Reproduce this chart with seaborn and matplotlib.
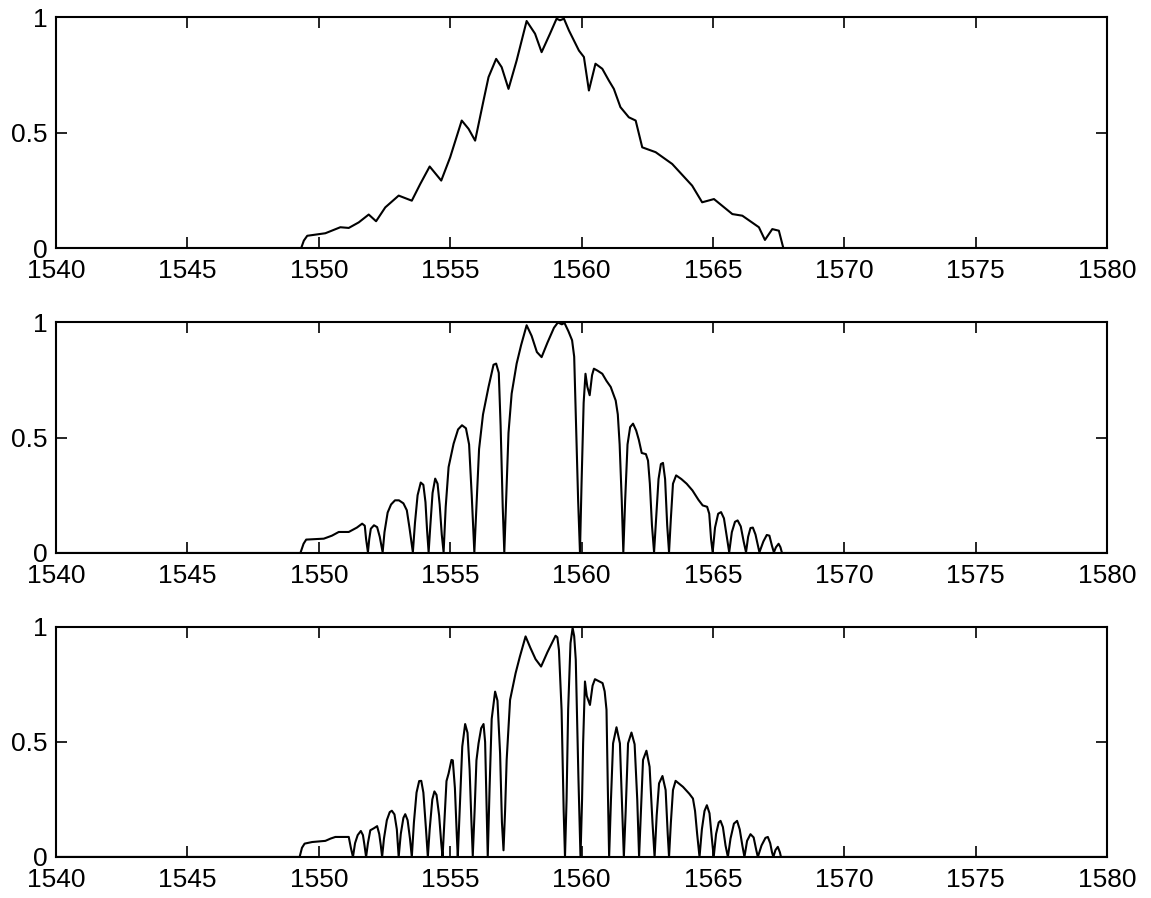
import matplotlib
matplotlib.use("Agg")
import matplotlib.pyplot as plt
import numpy as np
import pandas as pd
import seaborn as sns

# Wavelength axis ticks and limits
x_ticks = [1540, 1545, 1550, 1555, 1560, 1565, 1570, 1575, 1580]
y_ticks = [0, 0.5, 1]
y_tick_labels = ["0", "0.5", "1"]

# Spectrum without filtering
top_nm = [1540.0, 1549.33, 1549.43, 1549.56, 1550.25, 1550.82, 1551.14, 1551.52, 1551.90,
          1552.18, 1552.53, 1553.04, 1553.54, 1553.86, 1554.22, 1554.66, 1555.00, 1555.44,
          1555.70, 1555.95, 1556.27, 1556.46, 1556.75, 1556.96, 1557.22, 1557.53, 1557.91,
          1558.23, 1558.48, 1558.80, 1559.05, 1559.18, 1559.33, 1559.52, 1559.90, 1560.09,
          1560.28, 1560.53, 1560.79, 1561.04, 1561.23, 1561.48, 1561.80, 1562.06, 1562.31,
          1562.82, 1563.45, 1564.21, 1564.59, 1565.04, 1565.74, 1566.12, 1566.75, 1566.98,
          1567.26, 1567.51, 1567.68, 1580.0]
top_val = [0.0, 0.0, 0.032, 0.053, 0.064, 0.090, 0.087, 0.111, 0.145,
           0.116, 0.176, 0.227, 0.205, 0.277, 0.353, 0.292, 0.393, 0.552,
           0.516, 0.465, 0.639, 0.740, 0.819, 0.783, 0.689, 0.812, 0.983,
           0.928, 0.848, 0.928, 0.993, 0.986, 0.993, 0.942, 0.855, 0.827,
           0.682, 0.798, 0.776, 0.725, 0.689, 0.610, 0.566, 0.552, 0.436,
           0.415, 0.364, 0.270, 0.198, 0.212, 0.147, 0.140, 0.090, 0.035,
           0.082, 0.075, 0.0, 0.0]

# Spectrum after the first filter stage
mid_nm = [1540.0, 1549.30, 1549.42, 1549.52, 1550.19, 1550.50, 1550.76, 1551.14, 1551.45,
          1551.65, 1551.75, 1551.80, 1551.87, 1551.92, 1551.98, 1552.10, 1552.22, 1552.32,
          1552.43, 1552.50, 1552.62, 1552.75, 1552.90, 1553.05, 1553.22, 1553.35, 1553.45,
          1553.58, 1553.66, 1553.76, 1553.88, 1553.98, 1554.06, 1554.12, 1554.18, 1554.24,
          1554.33, 1554.43, 1554.52, 1554.60, 1554.68, 1554.75, 1554.83, 1554.94, 1555.13,
          1555.30, 1555.45, 1555.60, 1555.72, 1555.82, 1555.92, 1556.00, 1556.10, 1556.25,
          1556.46, 1556.65, 1556.75, 1556.85, 1556.92, 1557.00, 1557.06, 1557.12, 1557.22,
          1557.34, 1557.53, 1557.70, 1557.91, 1558.10, 1558.30, 1558.48, 1558.70, 1558.95,
          1559.10, 1559.25, 1559.35, 1559.50, 1559.64, 1559.72, 1559.78, 1559.87, 1559.94,
          1560.00, 1560.08, 1560.15, 1560.22, 1560.31, 1560.40, 1560.47, 1560.60, 1560.79,
          1560.95, 1561.11, 1561.30, 1561.38, 1561.45, 1561.53, 1561.59, 1561.66, 1561.75,
          1561.85, 1561.96, 1562.08, 1562.18, 1562.29, 1562.45, 1562.53, 1562.60, 1562.68,
          1562.76, 1562.84, 1562.93, 1563.02, 1563.10, 1563.18, 1563.26, 1563.33, 1563.40,
          1563.48, 1563.60, 1563.80, 1564.00, 1564.22, 1564.45, 1564.61, 1564.78, 1564.86,
          1564.93, 1564.99, 1565.08, 1565.20, 1565.31, 1565.42, 1565.53, 1565.62, 1565.72,
          1565.84, 1565.94, 1566.06, 1566.17, 1566.26, 1566.34, 1566.43, 1566.52, 1566.62,
          1566.77, 1566.92, 1567.05, 1567.15, 1567.25, 1567.32, 1567.40, 1567.50, 1567.57,
          1567.63, 1580.0]
mid_val = [0.0, 0.0, 0.040, 0.058, 0.062, 0.075, 0.091, 0.091, 0.110,
           0.127, 0.118, 0.060, 0.003, 0.060, 0.105, 0.120, 0.112, 0.070,
           0.003, 0.090, 0.175, 0.210, 0.228, 0.228, 0.215, 0.185, 0.110,
           0.003, 0.130, 0.250, 0.305, 0.295, 0.220, 0.100, 0.003, 0.110,
           0.260, 0.322, 0.300, 0.210, 0.080, 0.003, 0.200, 0.372, 0.473,
           0.535, 0.553, 0.540, 0.470, 0.250, 0.003, 0.200, 0.450, 0.600,
           0.719, 0.815, 0.820, 0.780, 0.550, 0.200, 0.003, 0.200, 0.520,
           0.690, 0.820, 0.900, 0.986, 0.940, 0.870, 0.848, 0.910, 0.975,
           0.998, 0.990, 0.996, 0.960, 0.921, 0.850, 0.600, 0.228, 0.003,
           0.300, 0.650, 0.776, 0.720, 0.683, 0.770, 0.798, 0.790, 0.776,
           0.745, 0.719, 0.660, 0.600, 0.470, 0.228, 0.003, 0.228, 0.470,
           0.545, 0.560, 0.530, 0.490, 0.433, 0.428, 0.400, 0.300, 0.120,
           0.003, 0.150, 0.320, 0.385, 0.390, 0.320, 0.120, 0.003, 0.150,
           0.300, 0.336, 0.320, 0.300, 0.271, 0.230, 0.206, 0.200, 0.170,
           0.060, 0.003, 0.110, 0.170, 0.177, 0.150, 0.070, 0.003, 0.090,
           0.135, 0.141, 0.115, 0.050, 0.003, 0.070, 0.108, 0.110, 0.080,
           0.003, 0.050, 0.078, 0.075, 0.030, 0.003, 0.025, 0.040, 0.025,
           0.0, 0.0]

# Spectrum after the second filter stage
bot_nm = [1540.0, 1549.27, 1549.36, 1549.46, 1549.75, 1550.25, 1550.45, 1550.63, 1551.14,
          1551.22, 1551.30, 1551.38, 1551.48, 1551.60, 1551.68, 1551.74, 1551.80, 1551.87,
          1551.96, 1552.10, 1552.22, 1552.30, 1552.36, 1552.41, 1552.48, 1552.59, 1552.70,
          1552.78, 1552.88, 1552.97, 1553.04, 1553.12, 1553.22, 1553.29, 1553.38, 1553.47,
          1553.54, 1553.62, 1553.72, 1553.82, 1553.90, 1553.98, 1554.08, 1554.15, 1554.22,
          1554.32, 1554.40, 1554.48, 1554.58, 1554.66, 1554.71, 1554.78, 1554.86, 1554.94,
          1555.05, 1555.10, 1555.18, 1555.25, 1555.29, 1555.36, 1555.46, 1555.57, 1555.66,
          1555.74, 1555.81, 1555.86, 1555.93, 1556.00, 1556.08, 1556.18, 1556.27, 1556.33,
          1556.38, 1556.43, 1556.50, 1556.58, 1556.71, 1556.80, 1556.90, 1556.97, 1557.03,
          1557.09, 1557.15, 1557.28, 1557.49, 1557.65, 1557.87, 1558.05, 1558.25, 1558.46,
          1558.70, 1559.01, 1559.08, 1559.14, 1559.24, 1559.32, 1559.37, 1559.43, 1559.49,
          1559.58, 1559.66, 1559.72, 1559.78, 1559.88, 1559.96, 1560.02, 1560.06, 1560.13,
          1560.20, 1560.32, 1560.42, 1560.51, 1560.65, 1560.80, 1560.88, 1560.95, 1561.00,
          1561.05, 1561.12, 1561.20, 1561.33, 1561.46, 1561.55, 1561.61, 1561.68, 1561.77,
          1561.90, 1562.02, 1562.12, 1562.19, 1562.26, 1562.34, 1562.47, 1562.59, 1562.70,
          1562.78, 1562.86, 1562.95, 1563.08, 1563.20, 1563.28, 1563.33, 1563.40, 1563.48,
          1563.58, 1563.86, 1564.10, 1564.24, 1564.32, 1564.40, 1564.49, 1564.58, 1564.68,
          1564.77, 1564.87, 1564.96, 1565.03, 1565.12, 1565.22, 1565.29, 1565.38, 1565.48,
          1565.57, 1565.67, 1565.80, 1565.92, 1566.02, 1566.12, 1566.20, 1566.30, 1566.43,
          1566.55, 1566.65, 1566.71, 1566.85, 1567.00, 1567.09, 1567.18, 1567.25, 1567.30,
          1567.38, 1567.47, 1567.55, 1567.59, 1580.0]
bot_val = [0.0, 0.0, 0.040, 0.058, 0.065, 0.070, 0.080, 0.087, 0.087,
           0.040, 0.0, 0.060, 0.095, 0.113, 0.095, 0.050, 0.0, 0.060,
           0.116, 0.125, 0.134, 0.100, 0.050, 0.0, 0.080, 0.160, 0.195,
           0.201, 0.185, 0.120, 0.0, 0.100, 0.170, 0.186, 0.160, 0.080,
           0.0, 0.150, 0.280, 0.330, 0.331, 0.280, 0.120, 0.0, 0.120,
           0.250, 0.285, 0.270, 0.180, 0.060, 0.0, 0.150, 0.330, 0.363,
           0.422, 0.420, 0.300, 0.100, 0.0, 0.200, 0.480, 0.578, 0.540,
           0.380, 0.150, 0.005, 0.200, 0.420, 0.494, 0.560, 0.578, 0.500,
           0.250, 0.0, 0.300, 0.600, 0.719, 0.680, 0.450, 0.150, 0.029,
           0.200, 0.422, 0.683, 0.799, 0.870, 0.959, 0.910, 0.860, 0.828,
           0.890, 0.962, 0.955, 0.900, 0.640, 0.200, 0.0, 0.250, 0.640,
           0.930, 0.996, 0.960, 0.858, 0.350, 0.0, 0.250, 0.494, 0.763,
           0.700, 0.661, 0.745, 0.773, 0.765, 0.756, 0.720, 0.640, 0.300,
           0.0, 0.250, 0.494, 0.564, 0.494, 0.200, 0.0, 0.200, 0.494,
           0.541, 0.490, 0.250, 0.0, 0.200, 0.422, 0.462, 0.392, 0.150,
           0.0, 0.180, 0.320, 0.352, 0.291, 0.100, 0.0, 0.150, 0.291,
           0.331, 0.305, 0.275, 0.254, 0.200, 0.100, 0.0, 0.120, 0.200,
           0.225, 0.190, 0.080, 0.0, 0.100, 0.150, 0.157, 0.130, 0.050,
           0.0, 0.080, 0.145, 0.157, 0.120, 0.050, 0.0, 0.070, 0.099,
           0.085, 0.030, 0.0, 0.050, 0.083, 0.087, 0.060, 0.020, 0.0,
           0.030, 0.044, 0.020, 0.0, 0.0]

sns.set_style("ticks")
plt.rcParams["font.family"] = ["Liberation Sans", "DejaVu Sans"]

fig = plt.figure(figsize=(11.51, 8.98), dpi=100)

panels = [
    ((0.0487, 0.7238, 0.9131, 0.2572), top_nm, top_val),
    ((0.0487, 0.3842, 0.9131, 0.2572), mid_nm, mid_val),
    ((0.0487, 0.0457, 0.9131, 0.2561), bot_nm, bot_val),
]

for rect, wl, val in panels:
    ax = fig.add_axes(rect)
    df = pd.DataFrame({"wavelength": wl, "power": val})
    sns.lineplot(data=df, x="wavelength", y="power", ax=ax, color="black",
                 linewidth=1.5, estimator=None, sort=False)
    ax.set_xlim(1540, 1580)
    ax.set_ylim(0, 1)
    ax.set_xticks(x_ticks)
    ax.set_xticklabels([str(t) for t in x_ticks])
    ax.set_yticks(y_ticks)
    ax.set_yticklabels(y_tick_labels)
    ax.set_xlabel("")
    ax.set_ylabel("")
    ax.tick_params(direction="in", length=8, width=1.2, top=True, right=True,
                   labelsize=19, colors="black")
    ax.tick_params(axis="x", pad=8)
    ax.tick_params(axis="y", pad=6)
    for sp in ax.spines.values():
        sp.set_visible(True)
        sp.set_linewidth(1.5)
        sp.set_color("black")

fig.savefig("out.png", dpi=100, facecolor="white")
